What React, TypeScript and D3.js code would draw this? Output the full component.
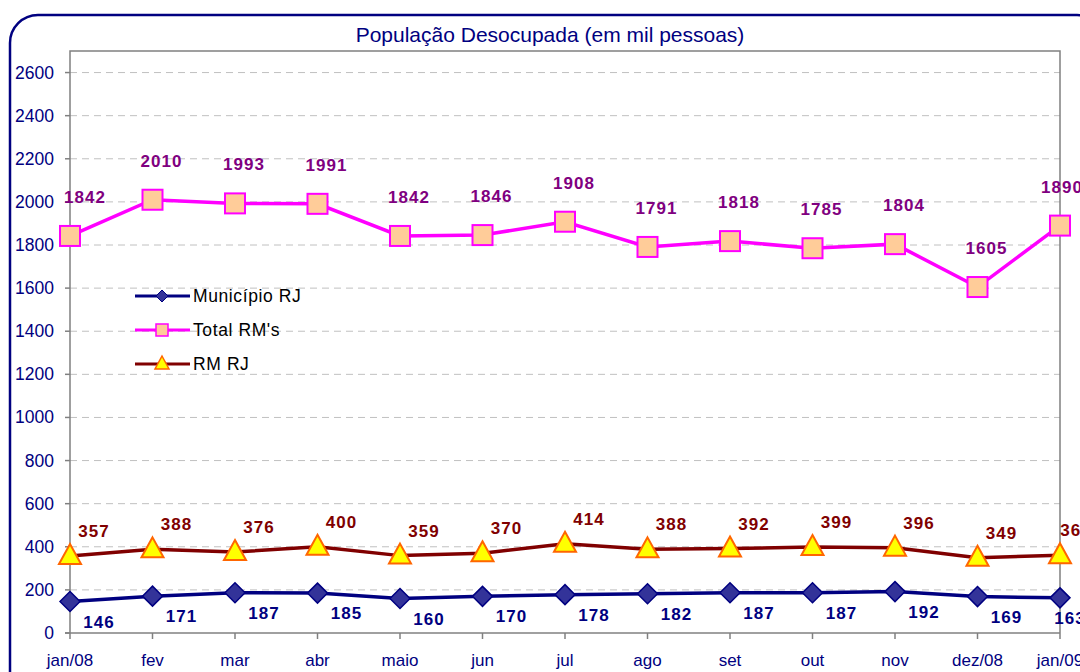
import React from "react";
import * as d3 from "d3";

const months = ["jan/08", "fev", "mar", "abr", "maio", "jun", "jul", "ago", "set", "out", "nov", "dez/08", "jan/09"];
const municipio = [146, 171, 187, 185, 160, 170, 178, 182, 187, 187, 192, 169, 163];
const totalRMs = [1842, 2010, 1993, 1991, 1842, 1846, 1908, 1791, 1818, 1785, 1804, 1605, 1890];
const rmRJ = [357, 388, 376, 400, 359, 370, 414, 388, 392, 399, 396, 349, 361];
const yTicks = [0, 200, 400, 600, 800, 1000, 1200, 1400, 1600, 1800, 2000, 2200, 2400, 2600];
const title = "População Desocupada (em mil pessoas)";
const legendNames = ["Município RJ", "Total RM's", "RM RJ"];

const W = 1080, H = 672;
const left = 70, right = 1060, top = 51, bottom = 633;
const FONT = "'Liberation Sans', Arial, sans-serif";

export default function App() {
  const x = d3.scalePoint<string>().domain(months).range([left, right]);
  const y = d3.scaleLinear().domain([0, 2700]).range([bottom, top]);
  const line = d3.line<number>().x((_, i) => x(months[i])!).y((d) => y(d));
  const last = months.length - 1;

  const diamond = (cx: number, cy: number, r: number) =>
    `M${cx},${cy - r}L${cx + r},${cy}L${cx},${cy + r}L${cx - r},${cy}Z`;
  const tri = (cx: number, cy: number) =>
    `M${cx},${cy - 12}L${cx + 11},${cy + 8}L${cx - 11},${cy + 8}Z`;

  const labelStyle = { fontFamily: FONT, fontWeight: 700, fontSize: 17, letterSpacing: 1 } as const;

  return (
    <svg width={W} height={H} style={{ position: "absolute", left: 0, top: 0, background: "#fff" }}>
      <rect x={10} y={15} width={1095} height={700} rx={28} ry={28} fill="#fff" stroke="#000080" strokeWidth={2.5} />
      <text x={550} y={42} textAnchor="middle" fontFamily={FONT} fontSize={21} fill="#000080">{title}</text>

      {/* grid */}
      {yTicks.filter((t) => t > 0).map((t) => (
        <line key={t} x1={left} x2={right} y1={y(t)} y2={y(t)} stroke="#c0c0c0" strokeWidth={1} strokeDasharray="7,5" />
      ))}
      {/* plot border */}
      <path d={`M${left},${bottom}V${top}H${right}V${bottom}`} fill="none" stroke="#808080" strokeWidth={1.5} />
      <line x1={left - 5} x2={right} y1={bottom} y2={bottom} stroke="#808080" strokeWidth={1.5} />
      {yTicks.map((t) => (
        <g key={t}>
          <line x1={left - 5} x2={left} y1={y(t)} y2={y(t)} stroke="#808080" strokeWidth={1.5} />
          <text x={54} y={y(t) + 6} textAnchor="end" fontFamily={FONT} fontSize={17.5} fill="#000080">{t}</text>
        </g>
      ))}
      {months.map((m) => (
        <g key={m}>
          <line x1={x(m)!} x2={x(m)!} y1={bottom} y2={bottom + 6} stroke="#808080" strokeWidth={1.5} />
          <text x={x(m)!} y={666} textAnchor="middle" fontFamily={FONT} fontSize={17} fill="#000080">{m}</text>
        </g>
      ))}

      {/* lines */}
      <path d={line(totalRMs)!} fill="none" stroke="#ff00ff" strokeWidth={3.5} />
      <path d={line(rmRJ)!} fill="none" stroke="#800000" strokeWidth={3.5} />
      <path d={line(municipio)!} fill="none" stroke="#000080" strokeWidth={3.5} />

      {/* markers */}
      {totalRMs.map((v, i) => (
        <rect key={"t" + i} x={x(months[i])! - 10} y={y(v) - 10} width={20} height={20} fill="#ffcc99" stroke="#ff00ff" strokeWidth={2} />
      ))}
      {rmRJ.map((v, i) => (
        <path key={"r" + i} d={tri(x(months[i])!, y(v))} fill="#ffff00" stroke="#ff6600" strokeWidth={2} strokeLinejoin="miter" />
      ))}
      {municipio.map((v, i) => (
        <path key={"m" + i} d={diamond(x(months[i])!, y(v), 10)} fill="#333399" stroke="#000080" strokeWidth={1.5} />
      ))}

      {/* labels */}
      {totalRMs.map((v, i) => (
        <text key={"tl" + i} x={x(months[i])! + (i === 0 ? 15 : i === last ? 2 : 9)} y={y(v) - 33} textAnchor="middle" fill="#800080" {...labelStyle}>{v}</text>
      ))}
      {rmRJ.map((v, i) => (
        <text key={"rl" + i} x={x(months[i])! + (i === last ? 16 : 24)} y={y(v) - 19} textAnchor="middle" fill="#800000" {...labelStyle}>{v}</text>
      ))}
      {municipio.map((v, i) => (
        <text key={"ml" + i} x={x(months[i])! + (i === last ? 10 : 29)} y={y(v) + 26} textAnchor="middle" fill="#000080" {...labelStyle}>{v}</text>
      ))}

      {/* legend */}
      {legendNames.map((n, i) => {
        const ly = 296 + i * 34;
        const cx = 162;
        return (
          <g key={n}>
            <line x1={135} x2={190} y1={ly} y2={ly} stroke={["#000080", "#ff00ff", "#800000"][i]} strokeWidth={3} />
            {i === 0 && <path d={diamond(cx, ly, 6)} fill="#333399" stroke="#000080" strokeWidth={1} />}
            {i === 1 && <rect x={cx - 6} y={ly - 6} width={12} height={12} fill="#ffcc99" stroke="#ff00ff" strokeWidth={1.5} />}
            {i === 2 && <path d={`M${cx},${ly - 8}L${cx + 7},${ly + 5}L${cx - 7},${ly + 5}Z`} fill="#ffff00" stroke="#ff6600" strokeWidth={1.5} />}
            <text x={193} y={ly + 6} fontFamily={FONT} fontSize={17.5} letterSpacing={0.6} fill="#000">{n}</text>
          </g>
        );
      })}
    </svg>
  );
}
